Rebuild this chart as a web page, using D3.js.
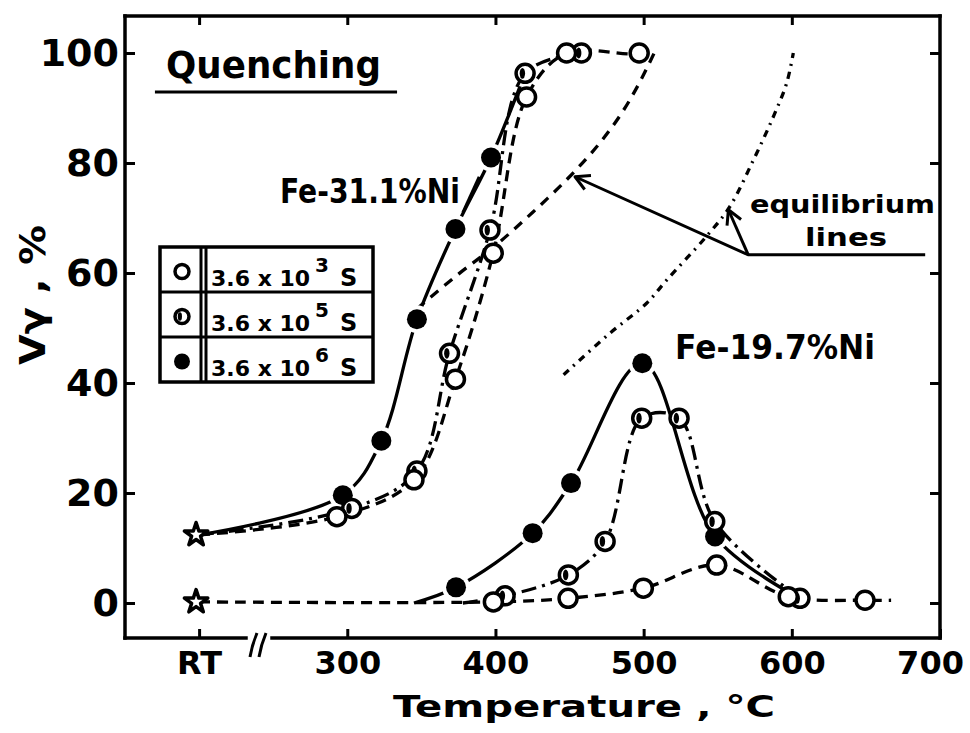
<!DOCTYPE html>
<html>
<head>
<meta charset="utf-8">
<script src="https://cdn.jsdelivr.net/npm/d3@7"></script>
<style>
  body { margin: 0; background: #fff; }
  text { font-family: "DejaVu Sans", sans-serif; font-weight: bold; fill: #000; }
</style>
</head>
<body>
<svg id="chart" width="970" height="733"></svg>
<script>
// temperature axis (RT is plotted at 200)
const xTickValues = [200, 300, 400, 500, 600, 700];
const xTickLabels = ["RT", "300", "400", "500", "600", "700"];
const yTickValues = [0, 20, 40, 60, 80, 100];

// holding times for the legend
const legendExponents = ["3", "5", "6"];
const legendKeys = ["t3", "t5", "t6"];

// Fe-31.1%Ni  [temperature, V gamma %]
const ni31RT = 12.4;
const ni31_t3 = [[293, 15.7], [345, 22.4], [373, 40.7], [398.5, 63.6], [421, 92], [448, 100], [497, 100]];
const ni31_t5 = [[303, 17.2], [347, 24], [369, 45.4], [396.3, 67.8], [420, 96.3], [458, 100]];
const ni31_t6 = [[297, 19.6], [323, 29.5], [347, 51.6], [373, 68], [397, 81], [420, 96.3]];
const ni31_t3End = [504, 101.5];

// Fe-19.7%Ni
const ni19RT = 0.2;
const ni19_t3 = [[398.6, 0.2], [449, 0.85], [499.8, 2.7], [549.3, 6.9], [597.6, 1.15], [649.4, 0.5]];
const ni19_t5 = [[406.5, 1.3], [449.2, 5.1], [474, 11.2], [498.7, 33.6], [523.9, 33.6], [548, 14.8], [605.5, 0.85]];
const ni19_t6 = [[373.4, 2.85], [425.1, 12.7], [451, 21.8], [499.1, 43.6], [548.2, 12.1], [605.5, 0.85]];
const ni19_t3End = [667, 0.5];
const ni19_t5Start = [378, 0];
const ni19_t6Start = [345, 0];

// equilibrium lines
const eq31 = [[347, 53.5], [375, 59.8], [400, 65], [425, 71], [450, 77.5], [470, 83.5], [485, 89], [497, 94.5], [508, 100.5]];
const eq19 = [[446, 41.5], [477, 49], [502, 54.5], [515.5, 58.7], [542.5, 66.7], [558, 72], [574, 80.5], [587.5, 88.4], [596.5, 94.5], [601, 100]];

const width = 970, height = 733;
const frame = { left: 125, right: 940, top: 16, bottom: 638 };

const svg = d3.select("#chart");

const x = d3.scaleLinear().domain([150, 700]).range([frame.left, frame.right]);
const y = d3.scaleLinear().domain([0, 100]).range([603, 53]);

const dash = { t3: "11,7", t5: "15,6,3,6", t6: null };
const lw = 3.3;

const line = d3.line()
    .x(d => x(d[0]))
    .y(d => y(d[1]))
    .curve(d3.curveCatmullRom.alpha(0.5));

function drawLine(pts, key) {
    svg.append("path")
        .attr("d", line(pts))
        .attr("fill", "none")
        .attr("stroke", "#000")
        .attr("stroke-width", lw)
        .attr("stroke-dasharray", dash[key]);
}

function drawMarker(g, cx, cy, key, r) {
    if (key === "t6") {
        g.append("circle").attr("cx", cx).attr("cy", cy).attr("r", r + 1).attr("fill", "#000");
    } else {
        g.append("circle").attr("cx", cx).attr("cy", cy).attr("r", r)
            .attr("fill", "#fff").attr("stroke", "#000").attr("stroke-width", 3.5);
        if (key === "t5") {
            g.append("ellipse").attr("cx", cx - r * 0.3).attr("cy", cy)
                .attr("rx", r * 0.3).attr("ry", r * 0.6).attr("fill", "#000");
        }
    }
}

// Frame
svg.append("line").attr("x1", frame.left).attr("x2", frame.left).attr("y1", frame.top).attr("y2", frame.bottom);
svg.append("line").attr("x1", frame.right).attr("x2", frame.right).attr("y1", frame.top).attr("y2", frame.bottom);
svg.append("line").attr("x1", frame.left).attr("x2", frame.right).attr("y1", frame.top).attr("y2", frame.top);
svg.append("line").attr("x1", frame.left).attr("x2", 246).attr("y1", frame.bottom).attr("y2", frame.bottom);
svg.append("line").attr("x1", 272).attr("x2", frame.right).attr("y1", frame.bottom).attr("y2", frame.bottom);
svg.selectAll("line").attr("stroke", "#000").attr("stroke-width", 3.5).attr("stroke-linecap", "square");

// axis break marks
[250, 259].forEach(bx => {
    svg.append("path")
        .attr("d", `M${bx},657 Q${bx + 2},645 ${bx + 7},633`)
        .attr("fill", "none").attr("stroke", "#000").attr("stroke-width", 3);
});

// Axes (ticks point inward)
const xAxis = svg.append("g")
    .attr("transform", `translate(0,${frame.bottom})`)
    .call(d3.axisBottom(x).tickValues(xTickValues).tickSizeInner(-9).tickSizeOuter(0).tickPadding(13)
        .tickFormat((d, i) => xTickLabels[i]));
xAxis.selectAll("text").attr("font-size", 32)
    .attr("dx", d => d === 700 ? -10 : 0);

const yAxis = svg.append("g")
    .attr("transform", `translate(${frame.left},0)`)
    .call(d3.axisLeft(y).tickValues(yTickValues).tickSizeInner(-10).tickSizeOuter(0).tickPadding(6));
yAxis.selectAll("text").attr("font-size", 38);

svg.append("g")
    .attr("transform", `translate(${frame.right},0)`)
    .call(d3.axisRight(y).tickValues(yTickValues).tickSizeInner(-10).tickSizeOuter(0).tickFormat(""));
svg.append("g")
    .attr("transform", `translate(0,${frame.top})`)
    .call(d3.axisTop(x).tickValues(xTickValues.slice(0, 5)).tickSizeInner(-9).tickSizeOuter(0).tickFormat(""));

svg.selectAll(".domain").remove();
svg.selectAll(".tick line").attr("stroke", "#000").attr("stroke-width", 3);
svg.selectAll(".tick text").attr("fill", "#000").attr("font-family", "DejaVu Sans").attr("font-weight", "bold");

// Axis titles
svg.append("text")
    .attr("transform", `translate(45,365) rotate(-90)`)
    .attr("font-size", 36)
    .attr("textLength", 140)
    .attr("lengthAdjust", "spacingAndGlyphs")
    .text("Vγ ,  %");

svg.append("text")
    .attr("x", 393).attr("y", 717)
    .attr("font-size", 30)
    .attr("textLength", 382)
    .attr("lengthAdjust", "spacingAndGlyphs")
    .text("Temperature , °C");

// Equilibrium lines
svg.append("path").attr("d", line(eq31)).attr("fill", "none")
    .attr("stroke", "#000").attr("stroke-width", lw).attr("stroke-dasharray", "10,8");
svg.append("path").attr("d", line(eq19)).attr("fill", "none")
    .attr("stroke", "#000").attr("stroke-width", lw).attr("stroke-dasharray", "7,6,2,6");

// Series
const series = [
    { key: "t6", pts: ni31_t6, path: [[200, ni31RT], ...ni31_t6] },
    { key: "t6", pts: ni19_t6, path: [ni19_t6Start, ...ni19_t6] },
    { key: "t5", pts: ni31_t5, path: [[200, ni31RT], ...ni31_t5] },
    { key: "t5", pts: ni19_t5, path: [ni19_t5Start, ...ni19_t5] },
    { key: "t3", pts: ni31_t3, path: [[200, ni31RT], ...ni31_t3, ni31_t3End] },
    { key: "t3", pts: ni19_t3, path: [[200, ni19RT], ...ni19_t3, ni19_t3End] }
];

// solid lines first, broken around their own markers
series.filter(s => s.key === "t6").forEach(s => {
    drawLine(s.path, s.key);
    svg.append("g").selectAll("circle").data(s.pts).join("circle")
        .attr("cx", d => x(d[0])).attr("cy", d => y(d[1])).attr("r", 14).attr("fill", "#fff");
});
series.filter(s => s.key !== "t6").forEach(s => drawLine(s.path, s.key));

const markers = svg.append("g");
["t6", "t5", "t3"].forEach(k => {
    series.filter(s => s.key === k).forEach(s => {
        s.pts.forEach(d => drawMarker(markers, x(d[0]), y(d[1]), k, 9));
    });
});

// RT stars
[ni31RT, ni19RT].forEach(v => {
    svg.append("path")
        .attr("transform", `translate(${x(200) - 3},${y(v)})`)
        .attr("d", d3.symbol(d3.symbolStar, 170)())
        .attr("fill", "#fff").attr("stroke", "#000").attr("stroke-width", 3.5)
        .attr("stroke-linejoin", "round");
});

// Labels
svg.append("text").attr("x", x(177.7)).attr("y", y(95.5))
    .attr("font-size", 38).attr("textLength", 215).attr("lengthAdjust", "spacingAndGlyphs")
    .text("Quenching");
svg.append("line").attr("x1", x(170.2)).attr("x2", x(333.6)).attr("y1", y(92.9)).attr("y2", y(92.9))
    .attr("stroke", "#000").attr("stroke-width", 3);

svg.append("text").attr("x", x(254.6)).attr("y", y(72.7))
    .attr("font-size", 33).attr("textLength", 180).attr("lengthAdjust", "spacingAndGlyphs")
    .text("Fe-31.1%Ni");
svg.append("line").attr("x1", x(378)).attr("y1", y(71)).attr("x2", x(389)).attr("y2", y(77.5))
    .attr("stroke", "#000").attr("stroke-width", 3);

svg.append("text").attr("x", x(521.2)).attr("y", y(44.4))
    .attr("font-size", 34).attr("textLength", 200).attr("lengthAdjust", "spacingAndGlyphs")
    .text("Fe-19.7%Ni");

svg.append("text").attr("x", x(571.8)).attr("y", y(70.9))
    .attr("font-size", 25).attr("textLength", 185).attr("lengthAdjust", "spacingAndGlyphs")
    .text("equilibrium");
svg.append("text").attr("x", x(608.9)).attr("y", y(64.9))
    .attr("font-size", 25).attr("textLength", 82).attr("lengthAdjust", "spacingAndGlyphs")
    .text("lines");

// Pointer to the equilibrium lines
const tip1 = [453.7, 77.5], elbow = [570.6, 63.3], lineEnd = [690, 63.3], tip2 = [557.2, 71.5];
svg.append("polyline")
    .attr("points", [tip1, elbow, lineEnd].map(d => [x(d[0]), y(d[1])].join(",")).join(" "))
    .attr("fill", "none").attr("stroke", "#000").attr("stroke-width", 3);
svg.append("line").attr("x1", x(elbow[0])).attr("y1", y(elbow[1])).attr("x2", x(tip2[0])).attr("y2", y(tip2[1]))
    .attr("stroke", "#000").attr("stroke-width", 3);

function arrowHead(tip, from) {
    const tx = x(tip[0]), ty = y(tip[1]);
    const a = Math.atan2(y(from[1]) - ty, x(from[0]) - tx);
    const len = 16, spread = 0.5;
    const p1 = [tx + len * Math.cos(a - spread), ty + len * Math.sin(a - spread)];
    const p2 = [tx + len * Math.cos(a + spread), ty + len * Math.sin(a + spread)];
    svg.append("polyline")
        .attr("points", [p1, [tx, ty], p2].map(p => p.join(",")).join(" "))
        .attr("fill", "none").attr("stroke", "#000").attr("stroke-width", 3)
        .attr("stroke-linejoin", "round");
}
arrowHead(tip1, elbow);
arrowHead(tip2, elbow);

// Legend
const legend = svg.append("g").attr("transform", "translate(160,247)");
const rowH = 45;
legend.append("rect").attr("width", 213).attr("height", rowH * 3)
    .attr("fill", "#fff").attr("stroke", "#000").attr("stroke-width", 3.5);
[41, 46].forEach(lx => legend.append("line").attr("x1", lx).attr("x2", lx).attr("y1", 0).attr("y2", rowH * 3)
    .attr("stroke", "#000").attr("stroke-width", 3));
[1, 2].forEach(i => legend.append("line").attr("x1", 0).attr("x2", 213).attr("y1", rowH * i).attr("y2", rowH * i)
    .attr("stroke", "#000").attr("stroke-width", 3));
legendKeys.forEach((k, i) => {
    const base = rowH * i + 39;
    drawMarker(legend, 22, rowH * i + rowH / 2 + 2, k, 7);
    legend.append("text").attr("x", 51).attr("y", base).attr("font-size", 22)
        .text("3.6 x 10");
    legend.append("text").attr("x", 155).attr("y", base - 14).attr("font-size", 20)
        .text(legendExponents[i]);
    legend.append("text").attr("x", 180).attr("y", base).attr("font-size", 24)
        .text("S");
});
</script>
</body>
</html>
